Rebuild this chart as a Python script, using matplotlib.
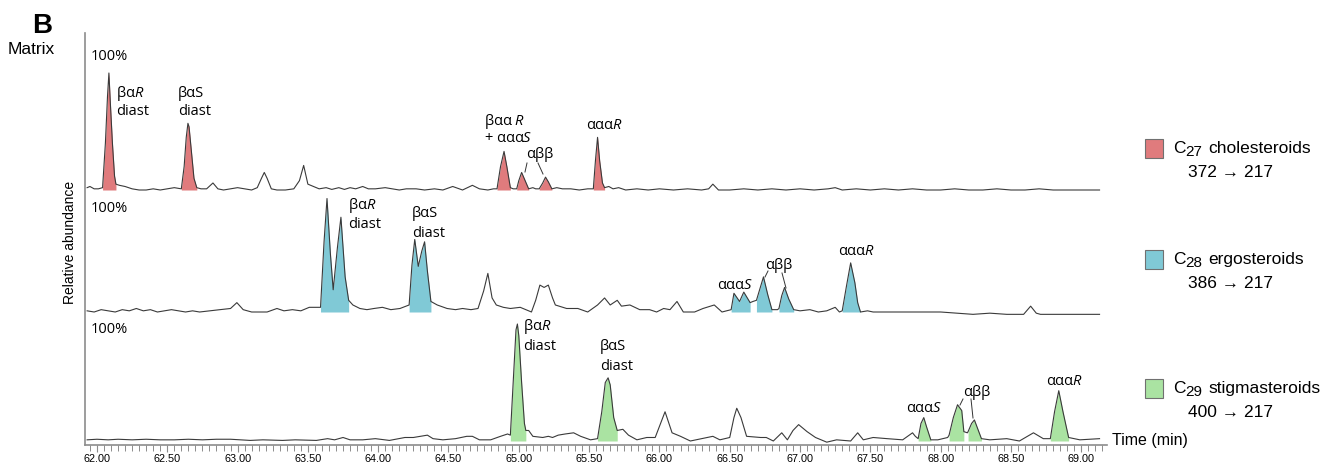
import numpy as np
import matplotlib.pyplot as plt
from matplotlib.patches import Rectangle
from matplotlib.lines import Line2D

plt.rcParams['mathtext.fontset'] = 'custom'
plt.rcParams['mathtext.rm'] = 'Liberation Sans'
plt.rcParams['mathtext.it'] = 'Open Sans:italic'

# ---- data (time in min, height in % of trace max) ----
c27_time = [61.93, 61.95, 61.98, 62.01, 62.04, 62.06, 62.075, 62.085, 62.095, 62.11, 62.125, 62.135,
            62.16, 62.2, 62.25, 62.3, 62.35, 62.4, 62.45, 62.5, 62.55, 62.6, 62.62, 62.635, 62.647,
            62.655, 62.67, 62.69, 62.71, 62.74, 62.78, 62.825, 62.86, 62.9, 62.95, 63.0, 63.05, 63.1,
            63.14, 63.17, 63.19, 63.21, 63.24, 63.28, 63.34, 63.4, 63.44, 63.47, 63.5, 63.54, 63.58,
            63.63, 63.67, 63.72, 63.76, 63.8, 63.84, 63.89, 63.93, 63.98, 64.05, 64.1, 64.15, 64.2,
            64.27, 64.33, 64.4, 64.46, 64.53, 64.6, 64.67, 64.72, 64.78, 64.82, 64.845, 64.87, 64.895,
            64.915, 64.94, 64.96, 64.985, 65.0, 65.02, 65.045, 65.07, 65.1, 65.12, 65.145, 65.17, 65.19,
            65.21, 65.235, 65.27, 65.31, 65.37, 65.43, 65.49, 65.53, 65.545, 65.56, 65.575, 65.595, 65.61,
            65.64, 65.67, 65.71, 65.76, 65.84, 65.92, 66.0, 66.1, 66.2, 66.3, 66.35, 66.38, 66.42, 66.5,
            66.6, 66.7, 66.8, 66.9, 67.0, 67.1, 67.2, 67.25, 67.3, 67.4, 67.5, 67.6, 67.7, 67.8, 67.9,
            68.0, 68.1, 68.2, 68.3, 68.4, 68.5, 68.6, 68.7, 68.8, 68.9, 69.0, 69.13]
c27_abund = [2, 3, 1, 1, 2, 40, 80, 100, 75, 40, 12, 5,
             4, 3, 1, 0, 0, 1, 0, 1, 2, 1, 20, 45, 57,
             54, 35, 10, 2, 1, 1, 6, 1, 0, 1, 2, 1, 0,
             2, 10, 15, 10, 1, 0, 0, 1, 8, 21, 5, 3, 1,
             2, 0.5, 2, 0.5, 2, 1, 3, 1, 1, 2, 1, 0, 1,
             1, 0, 1, 0, 3, 0, 4, 1, 0, 1, 1, 20, 33,
             20, 2, 1, 1, 8, 15, 8, 1, 2, 1, 1, 6, 11,
             7, 1, 2, 1, 1, 0, 1, 1, 25, 45, 25, 6, 2,
             3, 1, 2, 0, 1, 0, 1, 0, 1, 0, 1, 5, 0, 0,
             1, 0, 1, 0, 1, 0, 1, 2, 0, 1, 0, 1, 0, 1, 0,
             0, 1, 0, 0, 1, 0, 0, 1, 0, 0, 0, 0]
c27_peaks = [(62.04, 62.135), (62.60, 62.71), (64.845, 64.94), (64.985, 65.07),
             (65.145, 65.235), (65.53, 65.61)]

c28_time = [61.93, 61.98, 62.03, 62.08, 62.13, 62.18, 62.23, 62.28, 62.33, 62.38, 62.43, 62.48, 62.53,
            62.58, 62.63, 62.68, 62.73, 62.8, 62.875, 62.95, 62.995, 63.04, 63.1, 63.21, 63.28, 63.33,
            63.39, 63.45, 63.51, 63.59, 63.615, 63.636, 63.66, 63.68, 63.71, 63.735, 63.75, 63.765, 63.79,
            63.82, 63.87, 63.92, 63.97, 64.03, 64.09, 64.155, 64.22, 64.24, 64.26, 64.285, 64.31, 64.33,
            64.35, 64.375, 64.42, 64.49, 64.55, 64.6, 64.66, 64.71, 64.75, 64.78, 64.81, 64.84, 64.89,
            64.94, 65.01, 65.05, 65.09, 65.12, 65.15, 65.18, 65.21, 65.24, 65.26, 65.34, 65.42, 65.49, 65.56,
            65.61, 65.65, 65.70, 65.73, 65.79, 65.86, 65.93, 65.98, 66.03, 66.075, 66.125, 66.17, 66.25,
            66.31, 66.39, 66.445, 66.51, 66.53, 66.57, 66.60, 66.645, 66.665, 66.69, 66.715, 66.74, 66.77,
            66.80, 66.84, 66.85, 66.87, 66.89, 66.92, 66.955, 67.0, 67.07, 67.13, 67.19, 67.25, 67.28,
            67.30, 67.33, 67.36, 67.39, 67.41, 67.43, 67.48, 67.52, 67.6, 67.69, 67.76, 67.85, 68.0,
            68.12, 68.23, 68.35, 68.47, 68.59, 68.64, 68.68, 68.71, 68.8, 68.94, 69.05, 69.13]
c28_abund = [1, 0, 2, 1, 0, 2, 1, 3, 1, 2, 0, 1, 2,
             1, 0, 1, 0, 1, 2, 3, 8, 2, 0, 0, 3, 1,
             2, 1, 4, 4, 60, 97, 50, 19, 55, 81, 55, 30, 10,
             6, 3, 2, 3, 4, 2, 3, 6, 40, 62, 39, 52, 60,
             35, 9, 6, 3, 2, 3, 2, 3, 18, 33, 12, 6, 4,
             3, 4, 2, 0, 10, 23, 21, 23, 12, 6, 3, 3, 0, 6,
             12, 6, 10, 5, 6, 2, 2, 0, 3, 2, 9, 0, 0,
             3, 6, 0, 2, 16, 9, 17, 8, 9, 10, 20, 30, 15,
             2, 2, 3, 14, 21, 11, 2, 1, 2, 0, 1, 4, 0,
             1, 22, 42, 25, 8, 0, 1, 0, 0, 0, 0, 0, 0,
             -1, -2, -1, -2, -2, 5, -1, -2, -2, -2, -2, -2]
c28_peaks = [(63.59, 63.79), (64.22, 64.375), (66.51, 66.645), (66.69, 66.80),
             (66.85, 66.955), (67.30, 67.43)]

c29_time = [61.93, 62.0, 62.08, 62.15, 62.25, 62.35, 62.45, 62.55,
            62.65, 62.75, 62.85, 62.95, 63.09, 63.18, 63.32, 63.41, 63.56,
            63.64, 63.69, 63.75, 63.8, 63.89, 63.98, 64.08, 64.19, 64.25, 64.35, 64.39, 64.46, 64.55,
            64.63, 64.67, 64.72, 64.8, 64.87, 64.92, 64.94, 64.96, 64.98, 64.99, 65.0, 65.02, 65.04,
            65.05, 65.07, 65.10, 65.17, 65.21, 65.24, 65.28, 65.33, 65.39, 65.44, 65.51, 65.56, 65.59,
            65.615, 65.635, 65.65, 65.675, 65.70, 65.74, 65.78, 65.84, 65.91, 65.97, 66.04, 66.09, 66.15,
            66.22, 66.34, 66.38, 66.43, 66.50, 66.53, 66.55, 66.58, 66.60, 66.62, 66.72, 66.76, 66.81,
            66.87, 66.91, 66.95, 66.99, 67.05, 67.11, 67.19, 67.26, 67.36, 67.41, 67.45, 67.52, 67.62,
            67.73, 67.80, 67.82, 67.84, 67.86, 67.88, 67.90, 67.93, 67.98, 68.05, 68.06, 68.09, 68.12,
            68.15, 68.165, 68.19, 68.195, 68.22, 68.24, 68.265, 68.29, 68.35, 68.47, 68.56, 68.66, 68.73,
            68.78, 68.81, 68.84, 68.87, 68.91, 68.99, 69.13]
c29_abund = [1, 1.5, 1, 1.5, 1, 1.5, 1, 1,
             1.5, 1, 1.5, 1.5, 0.5, 1, 0.5, 1, 0.5,
             2, 1, 3, 1, 1, 2, 0.5, 3, 3, 5, 2, 1, 2,
             4, 4, 1, 1, 4, 6, 5, 50, 95, 100, 90, 50, 15,
             9, 9, 4, 3, 4, 3, 5, 6, 7, 4, 1, 2, 25,
             50, 54, 48, 20, 9, 10, 5, 1, 3, 3, 25, 7, 4,
             0, 3, 4, 1, 3, 20, 28, 20, 12, 4, 3, 3, 0,
             7, 1, 9, 14, 8, 3, -1, 1, 0, 7, 1, 3, 2,
             1, 7, 4, 2, 15, 20, 12, 1, 1, 3, 5, 20, 31,
             26, 8, 7, 8, 15, 18, 10, 2, 1, 2, 0, 7, 2,
             2, 25, 43, 25, 3, 1, 2]
c29_peaks = [(64.94, 65.05), (65.56, 65.70), (67.84, 67.93), (68.06, 68.165),
             (68.195, 68.29), (68.78, 68.91)]

x_ticks = np.arange(62.0, 69.01, 0.5)

W, H = 1341, 463
SCALE = 1.17
RED, BLUE, GREEN = '#E07B7D', '#80C9D6', '#AAE3A2'

fig = plt.figure(figsize=(W / 100, H / 100), dpi=100)
ax = fig.add_axes([85 / W, 1 - 445 / H, 1022 / W, 412 / H])

traces = [(c27_time, c27_abund, c27_peaks, 255, RED),
          (c28_time, c28_abund, c28_peaks, 133, BLUE),
          (c29_time, c29_abund, c29_peaks, 4, GREEN)]
for t, h, peaks, off, col in traces:
    t = np.array(t)
    y = off + np.array(h) * SCALE
    for a, b in peaks:
        m = (t >= a - 1e-9) & (t <= b + 1e-9)
        ax.fill_between(t[m], off, y[m], color=col, lw=0)
    ax.plot(t, y, color='#3a3a3a', lw=0.8)

ax.set_xlim(61.915, 69.183)
ax.set_ylim(0, 412)
for s in ['top', 'right']:
    ax.spines[s].set_visible(False)
for s in ['left', 'bottom']:
    ax.spines[s].set_color('#8c8c8c')
    ax.spines[s].set_linewidth(1.2)
ax.set_yticks([])
ax.set_xticks(x_ticks)
ax.set_xticklabels(['%.2f' % v for v in x_ticks], fontsize=7.8, family='Liberation Sans')
ax.set_xticks(np.arange(61.95, 69.16, 0.05), minor=True)
ax.tick_params(axis='x', which='major', length=5, width=0.8, color='#8c8c8c', pad=1.5)
ax.tick_params(axis='x', which='minor', length=4, width=0.7, color='#8c8c8c')


def ftxt(x, y, s, size=10.5, fam=('Open Sans', 'DejaVu Sans'), **kw):
    kw.setdefault('ha', 'left')
    kw.setdefault('va', 'baseline')
    fig.text(x / W, 1 - y / H, s, fontsize=size, family=list(fam), **kw)


def leader(x0, y0, x1, y1):
    fig.add_artist(Line2D([x0 / W, x1 / W], [1 - y0 / H, 1 - y1 / H],
                          transform=fig.transFigure, color='#333333', lw=0.7))


# panel letter and axis titles
ftxt(32, 33, 'B', size=20, fam=('Liberation Sans',), weight='bold')
ftxt(8, 54, 'Matrix', size=12.5, fam=('Liberation Sans',))
fig.text(70 / W, 1 - 242 / H, 'Relative abundance', rotation=90, fontsize=10,
         family='Liberation Sans', ha='center', va='center')
ftxt(1112, 441, 'Time (min)', size=11.5, fam=('Liberation Sans',), va='center')

# peak labels - C27
ftxt(91, 60, '100%')
ftxt(116, 97, 'βα$R$'); ftxt(116, 115, 'diast')
ftxt(178, 97, 'βαS'); ftxt(178, 115, 'diast')
ftxt(484, 125, 'βαα $R$'); ftxt(484, 142, '+ ααα$S$')
ftxt(526, 158, 'αββ')
leader(527, 163, 525, 172); leader(538, 163, 543, 174)
ftxt(586, 129, 'ααα$R$')

# C28
ftxt(91, 212, '100%')
ftxt(348, 209, 'βα$R$'); ftxt(348, 228, 'diast')
ftxt(412, 217, 'βαS'); ftxt(412, 237, 'diast')
ftxt(717, 289, 'ααα$S$')
ftxt(765, 269, 'αββ')
leader(768, 271, 765, 277); leader(782, 273, 786, 288)
ftxt(838, 255, 'ααα$R$')

# C29
ftxt(91, 333, '100%')
ftxt(523, 330, 'βα$R$'); ftxt(523, 350, 'diast')
ftxt(600, 350, 'βαS'); ftxt(600, 370, 'diast')
ftxt(906, 412, 'ααα$S$')
ftxt(963, 396, 'αββ')
leader(963, 399, 960, 405); leader(971, 399, 973, 418)
ftxt(1046, 385, 'ααα$R$')

# legend boxes on the right
legend_rows = [(139, RED, '27', 'cholesteroids', '372 → 217'),
               (250, BLUE, '28', 'ergosteroids', '386 → 217'),
               (379, GREEN, '29', 'stigmasteroids', '400 → 217')]
lfam = ('Liberation Sans', 'DejaVu Sans')
for ytop, col, sub, name, trans in legend_rows:
    fig.add_artist(Rectangle((1145 / W, 1 - (ytop + 19) / H), 18 / W, 19 / H,
                             transform=fig.transFigure, facecolor=col,
                             edgecolor='#707070', lw=0.8))
    ftxt(1173, ytop + 14, 'C', size=12.5, fam=lfam)
    ftxt(1185, ytop + 17, sub, size=11, fam=lfam)
    ftxt(1208, ytop + 14, name, size=12.5, fam=lfam)
    ftxt(1188, ytop + 38, trans, size=12.5, fam=lfam)

plt.savefig('out.png', dpi=100)
